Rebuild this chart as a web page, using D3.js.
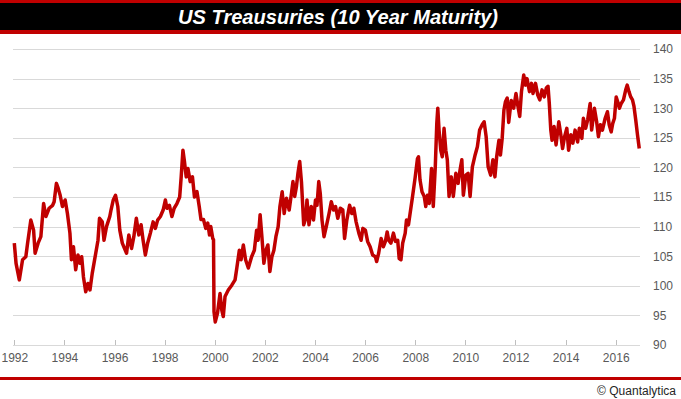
<!DOCTYPE html>
<meta charset="utf-8">
<style>
  body { margin: 0; background: #fff; }
  .axis text { font-family: "Liberation Sans", Arial, sans-serif; font-size: 12px; fill: #595959; }
  .axis .domain { display: none; }
  .y.axis line { stroke: #d9d9d9; shape-rendering: crispEdges; }
  .x.axis line { stroke: #bfbfbf; shape-rendering: crispEdges; }
</style>

<div class="chart"></div>

<script src="https://cdnjs.cloudflare.com/ajax/libs/d3/7.8.5/d3.min.js"></script>

<script>
    var title = "US Treausuries (10 Year Maturity)",
        credit = "\u00a9 Quantalytica";

    var yearTicks = [1992, 1994, 1996, 1998, 2000, 2002, 2004, 2006, 2008, 2010, 2012, 2014, 2016];
    var priceTicks = [90, 95, 100, 105, 110, 115, 120, 125, 130, 135, 140];

    // fractional year of each reading
    var years = [
        1992.00, 1992.07, 1992.20, 1992.33, 1992.46, 1992.53, 1992.66, 1992.77, 1992.83, 1992.95,
        1993.06, 1993.17, 1993.26, 1993.39, 1993.53, 1993.59, 1993.68, 1993.75, 1993.83, 1993.92,
        1994.03, 1994.12, 1994.22, 1994.28, 1994.36, 1994.45, 1994.54, 1994.62, 1994.69, 1994.76,
        1994.85, 1994.94, 1995.02, 1995.11, 1995.25, 1995.34, 1995.40, 1995.51, 1995.58, 1995.68,
        1995.81, 1995.86, 1995.95, 1996.04, 1996.13, 1996.21, 1996.31, 1996.40, 1996.48, 1996.57,
        1996.68, 1996.77, 1996.87, 1996.97, 1997.06, 1997.14, 1997.23, 1997.32, 1997.43, 1997.54,
        1997.63, 1997.72, 1997.83, 1997.94, 1998.03, 1998.09, 1998.19, 1998.29, 1998.38, 1998.49,
        1998.60, 1998.66, 1998.73, 1998.79, 1998.86, 1998.93, 1999.02, 1999.11, 1999.19, 1999.29,
        1999.38, 1999.45, 1999.55, 1999.64, 1999.72, 1999.79, 1999.84, 1999.92, 1999.95, 1999.97,
        2000.02, 2000.11, 2000.21, 2000.28, 2000.34, 2000.41, 2000.54, 2000.68, 2000.81, 2000.88,
        2000.98, 2001.05, 2001.14, 2001.23, 2001.34, 2001.47, 2001.58, 2001.67, 2001.73, 2001.81,
        2001.88, 2001.96, 2002.04, 2002.12, 2002.20, 2002.28, 2002.36, 2002.44, 2002.53, 2002.60,
        2002.69, 2002.77, 2002.86, 2002.97, 2003.06, 2003.12, 2003.19, 2003.26, 2003.32, 2003.39,
        2003.46, 2003.55, 2003.63, 2003.68, 2003.76, 2003.85, 2003.94, 2004.02, 2004.08, 2004.15,
        2004.21, 2004.28, 2004.36, 2004.45, 2004.56, 2004.65, 2004.74, 2004.82, 2004.91, 2005.01,
        2005.11, 2005.18, 2005.27, 2005.38, 2005.47, 2005.55, 2005.64, 2005.75, 2005.84, 2005.91,
        2006.01, 2006.10, 2006.20, 2006.30, 2006.41, 2006.46, 2006.54, 2006.64, 2006.73, 2006.81,
        2006.88, 2006.94, 2007.03, 2007.13, 2007.21, 2007.30, 2007.36, 2007.43, 2007.50, 2007.60,
        2007.65, 2007.73, 2007.89, 2008.00, 2008.09, 2008.13, 2008.19, 2008.27, 2008.36, 2008.42,
        2008.49, 2008.56, 2008.65, 2008.72, 2008.80, 2008.86, 2008.90, 2008.95, 2009.02, 2009.08,
        2009.15, 2009.22, 2009.28, 2009.35, 2009.44, 2009.52, 2009.62, 2009.71, 2009.79, 2009.86,
        2009.92, 2010.02, 2010.11, 2010.19, 2010.28, 2010.39, 2010.48, 2010.57, 2010.67, 2010.75,
        2010.83, 2010.91, 2011.01, 2011.10, 2011.18, 2011.25, 2011.34, 2011.40, 2011.47, 2011.54,
        2011.60, 2011.67, 2011.73, 2011.83, 2011.93, 2012.02, 2012.10, 2012.17, 2012.24, 2012.33,
        2012.40, 2012.46, 2012.56, 2012.64, 2012.70, 2012.80, 2012.89, 2012.97, 2013.06, 2013.15,
        2013.23, 2013.30, 2013.35, 2013.41, 2013.46, 2013.54, 2013.62, 2013.73, 2013.81, 2013.88,
        2013.96, 2014.05, 2014.12, 2014.21, 2014.29, 2014.38, 2014.48, 2014.55, 2014.65, 2014.71,
        2014.80, 2014.88, 2014.98, 2015.04, 2015.15, 2015.24, 2015.31, 2015.39, 2015.47, 2015.58,
        2015.67, 2015.74, 2015.82, 2015.88, 2015.95, 2016.02, 2016.08, 2016.15, 2016.22, 2016.31,
        2016.40, 2016.46, 2016.53, 2016.60, 2016.67, 2016.73, 2016.80, 2016.87, 2016.94
    ];

    var prices = [
        107.2, 103.8, 101.0, 104.4, 104.9, 107.2, 111.1, 109.4, 105.5, 107.2,
        108.3, 113.9, 111.7, 113.1, 113.6, 114.2, 117.3, 116.5, 115.3, 113.4,
        114.5, 112.2, 108.9, 104.4, 106.6, 102.7, 105.2, 103.8, 104.9, 101.5,
        99.0, 100.4, 99.3, 102.1, 105.5, 107.7, 111.4, 110.8, 107.7, 110.0,
        111.7, 112.8, 114.5, 115.3, 113.4, 109.4, 107.2, 106.3, 105.5, 108.6,
        106.3, 108.3, 111.4, 108.6, 110.3, 107.7, 105.2, 107.2, 108.9, 110.8,
        109.7, 111.1, 111.7, 112.8, 114.5, 113.1, 113.6, 111.7, 113.1, 113.9,
        115.0, 118.4, 122.9, 121.0, 118.4, 119.8, 117.6, 118.4, 115.0, 115.9,
        113.4, 111.2, 111.2, 109.7, 110.6, 108.6, 110.0, 108.0, 107.8, 95.6,
        93.9, 95.4, 98.7, 95.9, 94.8, 98.2, 99.3, 100.1, 101.0, 103.0,
        106.0, 104.4, 106.9, 104.4, 103.0, 104.9, 106.0, 109.4, 107.7, 112.0,
        108.3, 103.8, 106.0, 106.9, 102.4, 104.9, 106.0, 108.3, 110.0, 113.4,
        115.9, 112.2, 114.8, 112.8, 115.6, 117.6, 115.1, 116.8, 119.0, 121.0,
        117.5, 110.3, 111.4, 114.5, 110.3, 113.4, 111.1, 114.5, 113.6, 117.6,
        115.6, 111.1, 108.3, 110.0, 112.2, 114.2, 112.8, 113.4, 111.4, 113.1,
        112.8, 108.0, 111.1, 113.6, 112.2, 113.1, 110.8, 108.9, 107.7, 109.7,
        109.4, 107.5, 106.6, 105.2, 104.9, 104.1, 105.5, 108.0, 106.6, 107.5,
        109.1, 107.7, 107.2, 108.9, 107.5, 107.7, 104.6, 104.4, 107.2, 108.9,
        111.1, 110.3, 115.0, 118.4, 121.5, 121.8, 117.9, 115.9, 115.1, 113.4,
        115.3, 113.9, 119.8, 113.4, 120.1, 127.4, 130.0, 126.3, 122.9, 121.8,
        126.6, 122.9, 121.3, 115.1, 118.4, 115.1, 119.0, 117.3, 119.6, 121.3,
        115.3, 118.7, 119.0, 115.1, 120.1, 122.1, 123.5, 126.3, 127.2, 127.7,
        125.2, 120.1, 118.7, 121.3, 118.4, 121.8, 124.6, 122.1, 124.9, 129.7,
        131.1, 131.7, 127.6, 131.3, 130.0, 132.5, 130.3, 128.6, 132.8, 135.6,
        133.9, 135.0, 132.8, 134.2, 132.5, 134.2, 132.2, 131.4, 133.1, 131.9,
        133.4, 133.7, 130.8, 126.3, 124.6, 126.9, 123.8, 127.7, 125.5, 123.2,
        125.2, 126.6, 122.9, 125.5, 124.1, 126.3, 124.3, 126.6, 124.9, 128.3,
        126.6, 128.0, 130.8, 126.3, 130.0, 127.7, 125.2, 127.2, 126.3, 128.3,
        129.4, 127.2, 126.0, 127.4, 128.3, 131.9, 131.1, 130.0, 130.8, 131.4,
        133.1, 133.9, 132.8, 131.9, 131.4, 130.3, 128.0, 125.5, 123.2
    ];

    var width = 681, height = 399;

    var data = d3.zip(years, prices).map(function (d) { return {year: d[0], price: d[1]}; });

    var x = d3.scaleLinear()
        .domain([1992, 2016])
        .range([14.3, 615.7]);

    var y = d3.scaleLinear()
        .domain([90, 140])
        .range([345, 49]);

    var svg = d3.select(".chart")
        .append("svg")
        .attr("width", width)
        .attr("height", height);

    // title band
    svg.append("rect")
        .attr("x", 0).attr("y", 0)
        .attr("width", width).attr("height", 34)
        .attr("fill", "#c00000");

    svg.append("rect")
        .attr("x", 0).attr("y", 3)
        .attr("width", width).attr("height", 27)
        .attr("fill", "#000");

    svg.append("text")
        .attr("x", 338)
        .attr("y", 24)
        .attr("text-anchor", "middle")
        .attr("textLength", 320)
        .attr("lengthAdjust", "spacingAndGlyphs")
        .style("font-family", "'Liberation Sans', Arial, sans-serif")
        .style("font-size", "20px")
        .style("font-weight", "bold")
        .style("font-style", "italic")
        .style("fill", "#fff")
        .text(title);

    // gridlines + right labels
    var yAxis = d3.axisRight(y)
        .tickValues(priceTicks)
        .tickSize(-627)
        .tickPadding(13);

    svg.append("g")
        .attr("class", "y axis")
        .attr("transform", "translate(640,0)")
        .call(yAxis);

    var xAxis = d3.axisBottom(x)
        .tickValues(yearTicks)
        .tickFormat(d3.format("d"))
        .tickSize(-5)
        .tickPadding(8);

    svg.append("g")
        .attr("class", "x axis")
        .attr("transform", "translate(0,345)")
        .call(xAxis);

    var line = d3.line()
        .x((d) => x(d.year))
        .y((d) => y(d.price));

    svg.append("path")
        .datum(data)
        .attr("d", line)
        .attr("fill", "none")
        .attr("stroke", "#c00000")
        .attr("stroke-width", 3.5)
        .attr("stroke-linejoin", "round");

    // footer
    svg.append("rect")
        .attr("x", 0).attr("y", 377)
        .attr("width", width).attr("height", 3)
        .attr("fill", "#c00000");

    svg.append("text")
        .attr("x", 676)
        .attr("y", 395)
        .attr("text-anchor", "end")
        .style("font-family", "'Liberation Sans', Arial, sans-serif")
        .style("font-size", "12px")
        .style("fill", "#262626")
        .text(credit);
</script>
